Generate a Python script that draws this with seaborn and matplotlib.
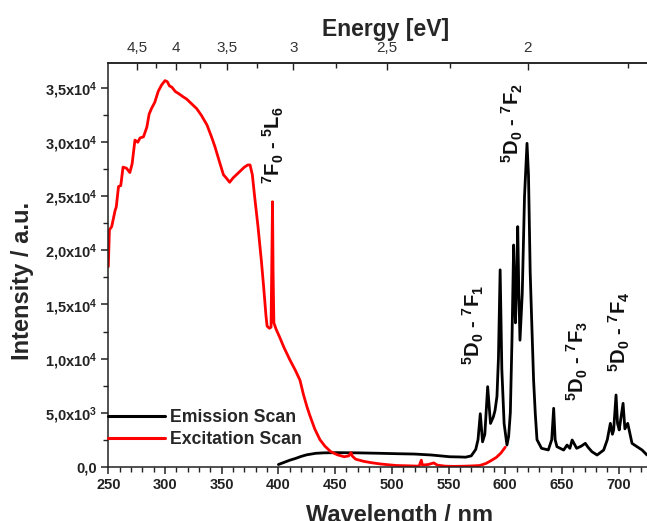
import numpy as np
import pandas as pd
import matplotlib
matplotlib.use("Agg")
import matplotlib.pyplot as plt
import seaborn as sns
from matplotlib.ticker import FixedLocator, MultipleLocator

# ---------------- data ----------------
exc_wl = [250, 251, 253, 256, 257, 259, 261, 263, 266, 269, 271, 273.5, 276, 278, 281,
          284, 286, 288, 291, 294, 297, 300, 302, 304, 306, 309, 312, 316, 319, 323,
          328, 332, 337, 341, 344, 348, 351.5, 354, 357, 360, 363, 366, 370, 373, 375,
          377, 379, 382, 385, 387, 389, 390, 392, 393.5, 394.3, 394.8, 395.3, 396, 398,
          401, 405, 410, 415, 419, 422, 425, 427.5, 432, 436.6, 441, 446, 452, 458, 462,
          464, 465, 468, 475, 482, 490, 504, 515, 524, 526, 527, 532, 537, 540, 547, 555,
          565, 572, 577.5, 583, 587, 592, 596, 600]
exc_int = [18500, 21900, 22200, 23700, 24000, 25900, 26000, 27700, 27600, 27200, 28000,
           30200, 30000, 30400, 30500, 31400, 32600, 33100, 33700, 34700, 35300, 35700,
           35600, 35200, 35100, 34700, 34500, 34200, 34000, 33600, 33100, 32500, 31600,
           30500, 29600, 28200, 27000, 26700, 26300, 26700, 27000, 27300, 27700, 27900,
           27900, 27000, 25000, 22200, 19000, 16600, 14000, 13000, 12800, 12900, 20000,
           24500, 18000, 13300, 12700, 12000, 11000, 9900, 8900, 8000, 6700, 5600, 4800,
           3500, 2500, 1900, 1400, 1100, 920, 1000, 1300, 1000, 700, 500, 370, 250, 110,
           80, 50, 600, 150, 200, 350, 150, 50, 30, 50, 80, 110, 300, 530, 850, 1240, 1800]

emi_wl = [400, 405, 410, 415, 420, 425, 433, 440, 452, 470, 489, 505, 520, 535, 551, 560,
          565, 570, 574, 576, 578, 580, 582, 584.5, 587, 589.5, 591, 592.7, 594, 595.5,
          597, 599, 601.5, 603, 604.5, 606, 607.4, 608.3, 609, 610, 611, 612, 613, 615,
          617, 619.2, 620.5, 622, 623.6, 625, 626.5, 628, 632, 638, 641, 642.7, 644,
          645.6, 651.5, 654.5, 657, 659, 663, 667, 670.6, 673, 676.4, 681, 686.8, 690,
          692.7, 694.5, 695.6, 697.7, 699, 700.5, 702, 703.9, 705.5, 708, 711.8, 716.2,
          720.7, 725]
emi_int = [200, 400, 600, 760, 950, 1100, 1240, 1280, 1300, 1280, 1240, 1200, 1170, 1080,
           920, 900, 880, 1000, 1600, 2500, 4900, 2300, 3000, 7400, 4000, 4600, 5200,
           6500, 10000, 18200, 9000, 4000, 2000, 2800, 5000, 12000, 20500, 16000, 13300,
           17000, 22200, 16000, 11700, 16000, 25000, 29900, 27000, 18000, 12600, 8000,
           4900, 2500, 1700, 1550, 2500, 5400, 2500, 1850, 1540, 2000, 1700, 2470, 1700,
           1900, 2160, 1800, 1390, 1080, 1540, 2500, 4010, 3000, 3400, 6630, 4000, 3400,
           4500, 5860, 3500, 4010, 2160, 1850, 1540, 1080]

series_names = ["Emission Scan", "Excitation Scan"]
series_colors = ["#000000", "#ff0000"]

x_ticks = [250, 300, 350, 400, 450, 500, 550, 600, 650, 700]
x_tick_labels = ["250", "300", "350", "400", "450", "500", "550", "600", "650", "700"]
y_ticks = [0, 5000, 10000, 15000, 20000, 25000, 30000, 35000]
y_tick_labels = ["0,0", "5,0x10$^3$", "1,0x10$^4$", "1,5x10$^4$", "2,0x10$^4$",
                 "2,5x10$^4$", "3,0x10$^4$", "3,5x10$^4$"]
e_ticks = [4.5, 4.0, 3.5, 3.0, 2.5, 2.0]
e_tick_labels = ["4,5", "4", "3,5", "3", "2,5", "2"]
e_minor = [4.25, 3.75, 3.25, 2.75, 2.25, 1.75]

annotations = [
    ("$^{7}$F$_{0}$ - $^{5}$L$_{6}$", 395.3, 29700),
    ("$^{5}$D$_{0}$ - $^{7}$F$_{2}$", 606, 31800),
    ("$^{5}$D$_{0}$ - $^{7}$F$_{1}$", 572, 13100),
    ("$^{5}$D$_{0}$ - $^{7}$F$_{3}$", 664, 9800),
    ("$^{5}$D$_{0}$ - $^{7}$F$_{4}$", 700.6, 12450),
]

# ---------------- style ----------------
sns.set_style("ticks")
plt.rcParams["font.family"] = ["Liberation Sans", "DejaVu Sans"]
plt.rcParams["mathtext.default"] = "regular"
plt.rcParams["axes.linewidth"] = 1.1

W, H = 647, 521
fig = plt.figure(figsize=(W / 100, H / 100), dpi=100)
x0, x1, ybot, ytop = 108.3, 647, 466.7, 63.3
ax = fig.add_axes([x0 / W, (H - ybot) / H, (x1 - x0) / W, (ybot - ytop) / H])

df = pd.concat([
    pd.DataFrame({"wl": emi_wl, "I": emi_int, "scan": series_names[0]}),
    pd.DataFrame({"wl": exc_wl, "I": exc_int, "scan": series_names[1]}),
])
sns.lineplot(data=df, x="wl", y="I", hue="scan", palette=dict(zip(series_names, series_colors)),
             linewidth=2.0, ax=ax, estimator=None, sort=True)

ax.set_xlim(250, 725)
ax.set_ylim(0, 37300)

ax.spines["right"].set_visible(False)
for s in ["left", "bottom", "top"]:
    ax.spines[s].set_color("#222222")

ax.set_xticks(x_ticks, labels=x_tick_labels, fontweight="bold", fontsize=10.5, color="#222222")
ax.set_yticks(y_ticks, labels=y_tick_labels, fontweight="bold", fontsize=10.5, color="#222222")
ax.xaxis.set_minor_locator(MultipleLocator(10))
ax.yaxis.set_minor_locator(MultipleLocator(2500))
ax.tick_params(axis="both", which="major", direction="out", length=5, width=1.1, pad=3,
               color="#222222")
ax.tick_params(axis="both", which="minor", direction="out", length=3.5, width=1.0,
               color="#222222")
ax.tick_params(axis="x", top=False)

ax.set_xlabel("Wavelength / nm", fontsize=17, fontweight="bold")
ax.set_ylabel("Intensity / a.u.", fontsize=17, fontweight="bold")
ax.xaxis.set_label_coords(0.54, -0.092)
ax.yaxis.set_label_coords(-0.138, 0.46)


def wl2e(x):
    x = np.asarray(x, dtype=float)
    with np.errstate(divide="ignore", invalid="ignore"):
        return 1239.84 / x


sec = ax.secondary_xaxis("top", functions=(wl2e, wl2e))
sec.set_ticks(e_ticks, labels=e_tick_labels, fontsize=11, color="#333333")
sec.xaxis.set_minor_locator(FixedLocator(e_minor))
sec.tick_params(axis="x", which="major", direction="in", length=5, width=1.0, pad=6,
                color="#222222")
sec.tick_params(axis="x", which="minor", direction="in", length=3.5, width=1.0,
                color="#222222")
sec.spines["top"].set_color("#222222")
sec.set_xlabel("Energy [eV]", fontsize=16.5, fontweight="bold")
sec.xaxis.set_label_coords(0.5155, 1.068, transform=ax.transAxes)

for txt, xx, yy in annotations:
    ax.text(xx, yy, txt, rotation=90, ha="center", va="center", fontsize=14.5,
            fontweight="bold", color="#111111")

leg = ax.legend(loc="center left", bbox_to_anchor=(0.0, 0.095), frameon=False,
                prop={"weight": "bold", "size": 12.7}, handlelength=3.2,
                handletextpad=0.3, labelspacing=0.3, borderpad=0, borderaxespad=0)
for line in leg.get_lines():
    line.set_linewidth(2.2)

fig.savefig("out.png", dpi=100)
